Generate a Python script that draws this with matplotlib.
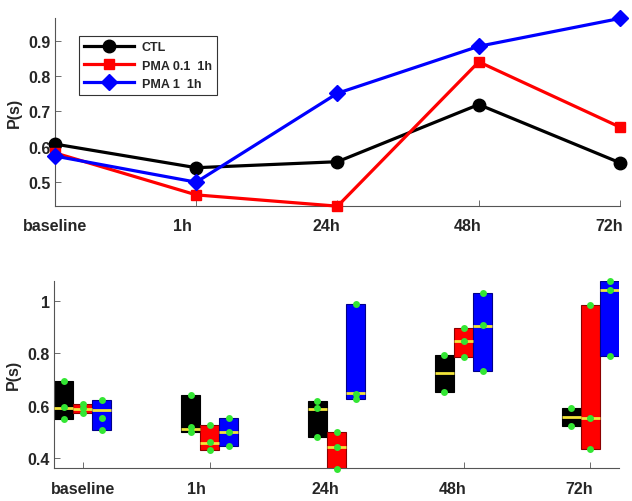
"""P(s) over time: group means (top) and per-animal ranges (bottom)."""

import matplotlib.pyplot as plt
import matplotlib.transforms as mtransforms
import numpy as np

plt.rcParams['font.family'] = ['Liberation Sans', 'DejaVu Sans']
plt.rcParams['font.weight'] = 'bold'

timepoints = ['baseline', '1h', '24h', '48h', '72h']
groups = ['CTL', 'PMA 0.1  1h', 'PMA 1  1h']
colors = ['#000000', '#FF0000', '#0000FF']
edge_colors = ['#000000', '#8B0000', '#00008B']
markers = ['o', 's', 'D']
marker_sizes = [9, 7.5, 8]

# top panel: group means
ctl_mean = [0.607, 0.540, 0.557, 0.719, 0.554]
pma01_mean = [0.582, 0.463, 0.431, 0.840, 0.655]
pma1_mean = [0.573, 0.499, 0.751, 0.884, 0.963]

# bottom panel: individual values (green dots) and centre line (yellow)
ctl_points = [[0.693, 0.594, 0.550], [0.641, 0.518, 0.498], [0.617, 0.590, 0.479],
              [0.793, 0.651], [0.590, 0.522]]
pma01_points = [[0.607, 0.590, 0.571], [0.526, 0.463, 0.429], [0.501, 0.444, 0.357],
                [0.898, 0.846, 0.786], [0.983, 0.552, 0.435]]
pma1_points = [[0.623, 0.552, 0.508], [0.553, 0.499, 0.446], [0.989, 0.645, 0.625],
               [1.030, 0.907, 0.731], [1.077, 1.042, 0.790]]
ctl_center = [0.593, 0.512, 0.588, 0.724, 0.558]
pma01_center = [0.588, 0.457, 0.442, 0.846, 0.552]
pma1_center = [0.585, 0.499, 0.648, 0.905, 1.042]

TEXT = '#262626'
SPINE = '#555555'
FS = 11.5


def style_axes(ax):
    for side in ['top', 'right']:
        ax.spines[side].set_visible(False)
    for side in ['left', 'bottom']:
        ax.spines[side].set_color(SPINE)
        ax.spines[side].set_linewidth(0.8)
    ax.tick_params(direction='in', length=4, width=0.6, color=SPINE,
                   labelsize=FS, labelcolor=TEXT)
    ax.tick_params(axis='x', pad=9)
    ax.tick_params(axis='y', pad=3)
    for lab in ax.get_xticklabels() + ax.get_yticklabels():
        lab.set_fontweight('bold')
    ax.set_ylabel('P(s)', fontsize=FS, fontweight='bold', color=TEXT, labelpad=5)
    # MATLAB pads the labels to equal length, so short ones sit left of the tick
    pad = max(len(t) for t in timepoints)
    space = 0.278 * FS  # width of a space, points
    for lab, t in zip(ax.get_xticklabels(), timepoints):
        dx = -(pad - len(t)) / 2 * space
        lab.set_transform(lab.get_transform() +
                          mtransforms.ScaledTranslation(dx / 72, 0, fig.dpi_scale_trans))


fig = plt.figure(figsize=(6.32, 5.02), dpi=100)
ax1 = fig.add_axes([0.087, 0.588, 0.894, 0.374])
ax2 = fig.add_axes([0.0855, 0.0657, 0.894, 0.373])

x = np.arange(1, len(timepoints) + 1)
means = [ctl_mean, pma01_mean, pma1_mean]
for i in range(3):
    ax1.plot(x, means[i], color=colors[i], lw=2.3, marker=markers[i],
             ms=marker_sizes[i], label=groups[i], clip_on=False, zorder=3)
ax1.set_xlim(1, 5)
ax1.set_ylim(0.432, 0.964)
ax1.set_xticks(x)
ax1.set_xticklabels(timepoints)
ax1.set_yticks([0.5, 0.6, 0.7, 0.8, 0.9])
style_axes(ax1)
leg = ax1.legend(loc='upper left', bbox_to_anchor=(0.042, 0.906), borderaxespad=0,
                 prop={'size': 9, 'weight': 'bold'}, handlelength=4,
                 fancybox=False, framealpha=1, edgecolor='#333333',
                 borderpad=0.45, labelspacing=0.5, handletextpad=0.6)
leg.get_frame().set_linewidth(0.8)
for t in leg.get_texts():
    t.set_color(TEXT)

points = [ctl_points, pma01_points, pma1_points]
centers = [ctl_center, pma01_center, pma1_center]
width = 0.15
offsets = [-0.15, 0.0, 0.15]
for i in range(3):
    for j in range(len(timepoints)):
        vals = points[i][j]
        lo, hi = min(vals), max(vals)
        xc = x[j] + offsets[i]
        ax2.bar(xc, hi - lo, width=width, bottom=lo, color=colors[i],
                edgecolor=edge_colors[i], linewidth=0.8, zorder=2)
        ax2.plot([xc - width / 2, xc + width / 2], [centers[i][j]] * 2,
                 color='#F2E43A', lw=2, zorder=3, solid_capstyle='butt')
        ax2.plot([xc] * len(vals), vals, 'o', color='#33E633', ms=5,
                 mec='none', zorder=4, clip_on=False)
ax2.set_xlim(0.775, 5.225)
ax2.set_ylim(0.362, 1.077)
ax2.set_xticks(x)
ax2.set_xticklabels(timepoints)
ax2.set_yticks([0.4, 0.6, 0.8, 1.0])
ax2.set_yticklabels(['0.4', '0.6', '0.8', '1'])
style_axes(ax2)

fig.savefig('out.png', dpi=100)
plt.close(fig)
